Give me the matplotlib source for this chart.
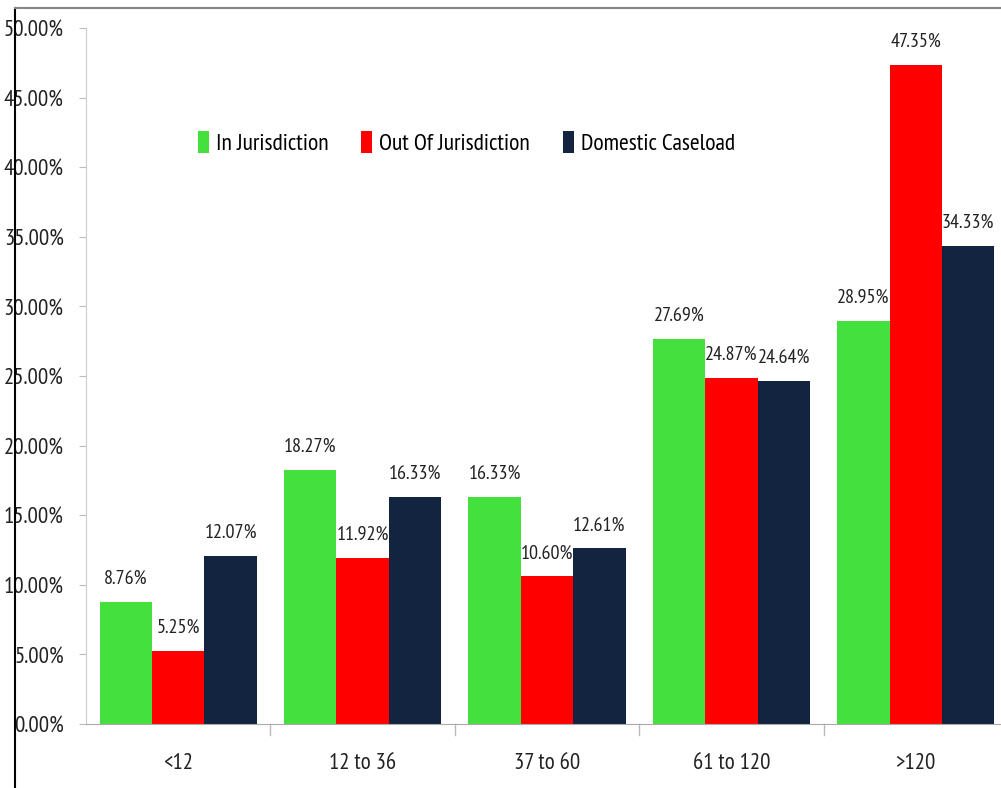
import numpy as np
import matplotlib
matplotlib.use("Agg")
import matplotlib.pyplot as plt
from matplotlib import font_manager
from matplotlib.lines import Line2D

# data
categories = ["<12", "12 to 36", "37 to 60", "61 to 120", ">120"]
in_jur = [8.76, 18.27, 16.33, 27.69, 28.95]
out_jur = [5.25, 11.92, 10.60, 24.87, 47.35]
domestic = [12.07, 16.33, 12.61, 24.64, 34.33]
series_names = ["In Jurisdiction", "Out Of Jurisdiction", "Domestic Caseload"]
colors = ["#44e03e", "#ff0000", "#12243f"]

# a narrow font, like the original's squeezed Calibri
names = {f.name for f in font_manager.fontManager.ttflist}
fam = "DejaVu Sans"
for cand in ["PT Sans Narrow", "Archivo Narrow", "Roboto Condensed", "Open Sans Condensed",
             "Liberation Sans Narrow", "Carlito"]:
    if cand in names:
        fam = cand
        break
plt.rcParams["font.family"] = [fam, "DejaVu Sans"]

fig = plt.figure(figsize=(10.01, 7.88), dpi=100)
W, H = 1001, 788
left, right, top, bottom = 86, 1008, 28, 724
ax = fig.add_axes([left / W, 1 - bottom / H, (right - left) / W, (bottom - top) / H])

x = np.arange(len(categories))
bw = 0.284
for i, vals in enumerate([in_jur, out_jur, domestic]):
    pos = x + (i - 1) * bw
    ax.bar(pos, vals, width=bw, color=colors[i], label=series_names[i])
    for p, v in zip(pos, vals):
        ax.text(p, v + 1.0, f"{v:.2f}%", ha="center", va="bottom", fontsize=14.5, color="#222222")

ax.set_xlim(-0.5, len(categories) - 0.5)
ax.set_ylim(0, 50)
yt = np.arange(0, 50.1, 5)
ax.set_yticks(yt)
ax.set_yticklabels([f"{t:.2f}%" for t in yt], fontsize=16.5, color="#222222")
ax.set_xticks(x)
ax.set_xticklabels(categories, fontsize=16.5, color="#222222")
ax.tick_params(axis="x", length=0, pad=21)
ax.tick_params(axis="y", length=5, color="#bbbbbb", pad=11)
# category separator ticks on the x axis
for b in np.arange(0.5, len(categories) - 0.5, 1.0):
    ax.plot([b, b], [0, -0.8], color="#bbbbbb", lw=1, clip_on=False)
for s in ["top", "right"]:
    ax.spines[s].set_visible(False)
ax.spines["left"].set_color("#cccccc")
ax.spines["bottom"].set_color("#aaaaaa")

leg = ax.legend(loc="center left", bbox_to_anchor=((198 - left) / (right - left), (bottom - 143) / (bottom - top)),
                ncol=3, frameon=False, fontsize=17, handlelength=0.45, handleheight=1.1,
                handletextpad=0.3, columnspacing=1.4, borderaxespad=0, borderpad=0)

# frame lines around the screenshot
fig.add_artist(Line2D([15 / W, 15 / W], [0, 1 - 8 / H], color="black", lw=1.5))
fig.add_artist(Line2D([15 / W, 1], [1 - 8 / H, 1 - 8 / H], color="#888888", lw=1.5))

fig.savefig("out.png", dpi=100)
